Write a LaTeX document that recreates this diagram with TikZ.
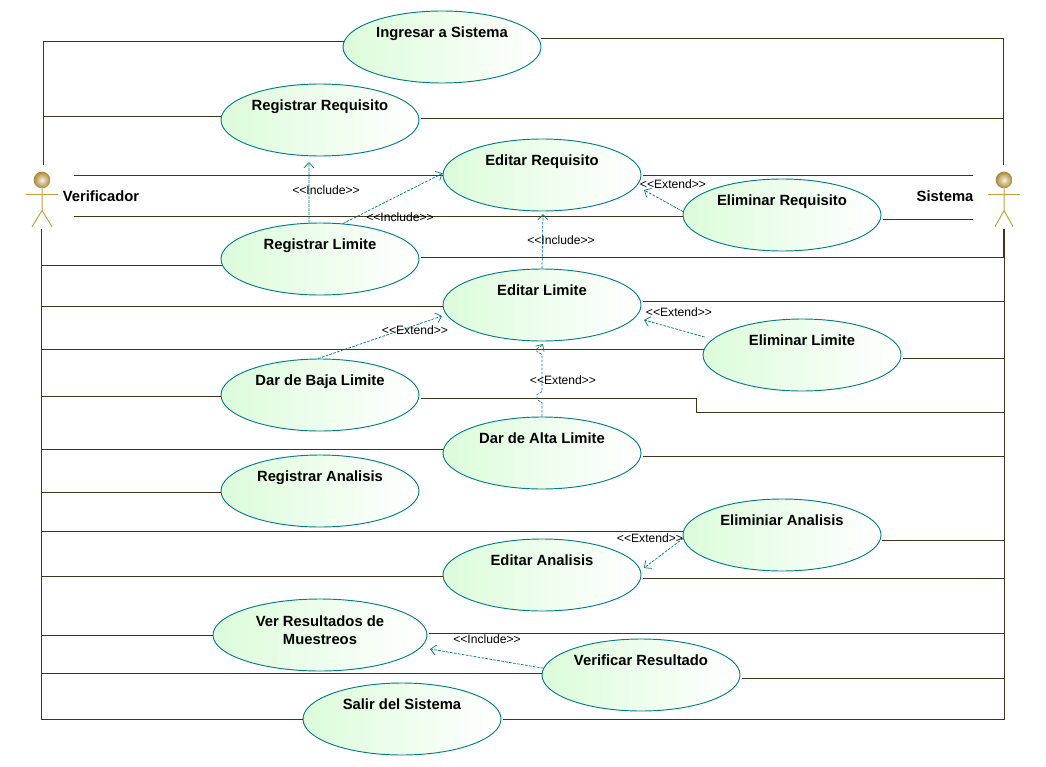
\documentclass[tikz,border=0pt]{standalone}
\usepackage{fontspec}
\setmainfont{Liberation Sans}
\usetikzlibrary{arrows.meta}
\usetikzlibrary{shapes.geometric}
\definecolor{ucEdge}{HTML}{008080}
\definecolor{ucFill}{HTML}{DCFCDA}
\definecolor{assocLine}{HTML}{40341F}
\definecolor{actorGold}{HTML}{C9A038}
\tikzset{
    uc/.style = {ellipse, draw=ucEdge, line width=0.7pt, left color=ucFill, right color=white, minimum width=148.5pt, minimum height=54pt, inner sep=0pt, align=center, font=\bfseries\fontsize{11.1}{13.5}\selectfont},
    assoc/.style = {draw=assocLine, line width=0.7pt},
    assocr/.style = {assoc, shorten <=1.5pt},
    dep/.style = {draw=ucEdge, dash pattern=on 2pt off 1pt, line width=0.55pt, -{Straight Barb[length=4pt,width=7.5pt]}},
    deplabel/.style = {inner sep=0pt, font=\fontsize{9.1}{10}\selectfont},
    actorhead/.style = {circle, inner color=white!85!actorGold, outer color=actorGold!85!black, minimum size=12.5pt, inner sep=0pt},
    limb/.style = {draw=actorGold, line width=0.75pt},
    actorname/.style = {inner sep=0pt, font=\bfseries\fontsize{11.1}{13}\selectfont}
}
\newcommand{\ucname}[1]{#1\\[9pt]~}
\begin{document}
\begin{tikzpicture}[x=0.75pt, y=-0.75pt]
    \useasboundingbox (0,0) rectangle (1046,767);
    % casos de uso
    \node[uc] (ingresar) at (442,47) {\ucname{Ingresar a Sistema}};
    \node[uc] (regReq) at (320,120) {\ucname{Registrar Requisito}};
    \node[uc] (editReq) at (542,175) {\ucname{Editar Requisito}};
    \node[uc] (elimReq) at (782,215) {\ucname{Eliminar Requisito}};
    \node[uc] (regLim) at (320,259) {\ucname{Registrar Limite}};
    \node[uc] (editLim) at (542,305) {\ucname{Editar Limite}};
    \node[uc] (elimLim) at (802,355) {\ucname{Eliminar Limite}};
    \node[uc] (bajaLim) at (320,395) {\ucname{Dar de Baja Limite}};
    \node[uc] (altaLim) at (542,453) {\ucname{Dar de Alta Limite}};
    \node[uc] (regAna) at (320,491) {\ucname{Registrar Analisis}};
    \node[uc] (elimAna) at (782,535) {\ucname{Eliminiar Analisis}};
    \node[uc] (editAna) at (542,575) {\ucname{Editar Analisis}};
    \node[uc, minimum width=160.5pt] (verRes) at (320,635) {Ver Resultados de\\Muestreos\\[-6pt]~};
    \node[uc] (verifRes) at (641,675) {\ucname{Verificar Resultado}};
    \node[uc] (salir) at (402,719) {\ucname{Salir del Sistema}};
    % actores
    \node[actorhead] (verHead) at (42,180) {};
    \node[actorhead] (sisHead) at (1004,180) {};
    \draw[limb] (verHead.south) -- ++(0,22) coordinate (verHip) -- ++(-10,16);
    \draw[limb] (verHip) -- ++(10,16);
    \draw[limb] (26,194) -- (58,194);
    \draw[limb] (sisHead.south) -- ++(0,22) coordinate (sisHip) -- ++(-9,16);
    \draw[limb] (sisHip) -- ++(9,16);
    \draw[limb] (988,194) -- (1020,194);
    \node[actorname] (verName) at (101,196) {Verificador};
    \node[actorname] (sisName) at (945,196) {Sistema};
    % puntos libres
    \coordinate (verTop) at (43,165);
    \coordinate (verBase) at (41,229);
    \coordinate (verEdit) at (74,175);
    \coordinate (verElim) at (74,216);
    \coordinate (sisTop) at (1003,165);
    \coordinate (sisBase) at (1004,229);
    \coordinate (sisEdit) at (973,175);
    \coordinate (sisElim) at (973,219);
    \coordinate (bajaBend) at (696,412);
    \coordinate (tipRegReq) at (309,162);
    \coordinate (tipElimReq) at (644,190);
    \coordinate (tipElimLim) at (644,320);
    \coordinate (tipBaja) at (442,316);
    \coordinate (tipAlta) at (543,344);
    \coordinate (tipElimAna) at (644,568);
    \coordinate (tipVerif) at (430,649);
    \coordinate (tipEditLim) at (543,214);
    % Verificador
    \draw[assoc] (verTop) |- (ingresar.177);
    \draw[assoc] (verTop) |- (regReq.178);
    \draw[assoc] (verEdit) -- (editReq.180);
    \draw[assoc] (verElim -| elimReq.181) -- (verElim);
    \draw[assoc] (verBase) |- (regLim.184);
    \draw[assoc] (verBase) |- (editLim.181);
    \draw[assoc] (verBase) |- (elimLim.177);
    \draw[assoc] (verBase) |- (bajaLim.181);
    \draw[assoc] (verBase) |- (altaLim.178);
    \draw[assoc] (verBase) |- (regAna.181);
    \draw[assoc] (verBase) |- (elimAna.178);
    \draw[assoc] (verBase) |- (editAna.181);
    \draw[assoc] (verBase) |- (verRes.180);
    \draw[assoc] (verBase) |- (verifRes.179);
    \draw[assoc] (verBase) |- (salir.180);
    % Sistema
    \draw[assocr] (ingresar.5) -| (sisTop);
    \draw[assocr] (regReq.1) -| (sisTop);
    \draw[assocr] (editReq.0) -- (sisEdit);
    \draw[assocr] (sisElim -| elimReq.358) -- (sisElim);
    \draw[assocr] (regLim.1) -| (sisTop |- sisBase);
    \draw[assocr] (editLim.2) -| (sisBase);
    \draw[assocr] (elimLim.358) -| (sisBase);
    \draw[assocr] (bajaLim.358) -| (bajaBend) -| (sisBase);
    \draw[assocr] (altaLim.358) -| (sisBase);
    \draw[assocr] (elimAna.357) -| (sisBase);
    \draw[assocr] (editAna.358) -| (sisBase);
    \draw[assocr] (verRes.1) -| (sisBase);
    \draw[assocr] (verifRes.358) -| (sisBase);
    \draw[assocr] (salir.0) -| (sisBase);
    % dependencias
    \draw[dep] (regLim.107) -- (tipRegReq);
    \draw[dep] (regLim.57) -- (editReq.179);
    \draw[dep] (elimReq.178) -- (tipElimReq);
    \draw[dep] (editLim.north) -- (tipEditLim);
    \draw[dep, shorten <=6pt] (elimLim.170) -- (tipElimLim);
    \draw[dep] (bajaLim.93) -- (tipBaja);
    \draw[dep] (altaLim.north) -- ++(0,-14) -- ++(-5,-3) -- ++(0,-5) -- ++(5,-3) -- ++(0,-37) -- ++(-5,-3) -- ++(0,-3) -- ++(5,-3) -- (tipAlta);
    \draw[dep] (elimAna.182) -- (tipElimAna);
    \draw[dep] (verifRes.176) -- (tipVerif);
    % etiquetas
    \node[deplabel] (incA) at (326,190) {<{}<Include>{}>};
    \node[deplabel] (incB) at (400,217) {<{}<Include>{}>};
    \node[deplabel] (extA) at (673,184) {<{}<Extend>{}>};
    \node[deplabel] (incC) at (561,240) {<{}<Include>{}>};
    \node[deplabel] (extB) at (679,312) {<{}<Extend>{}>};
    \node[deplabel] (extC) at (415,330) {<{}<Extend>{}>};
    \node[deplabel] (extD) at (563,380) {<{}<Extend>{}>};
    \node[deplabel] (extE) at (650,538) {<{}<Extend>{}>};
    \node[deplabel] (incD) at (487,639) {<{}<Include>{}>};
\end{tikzpicture}
\end{document}
